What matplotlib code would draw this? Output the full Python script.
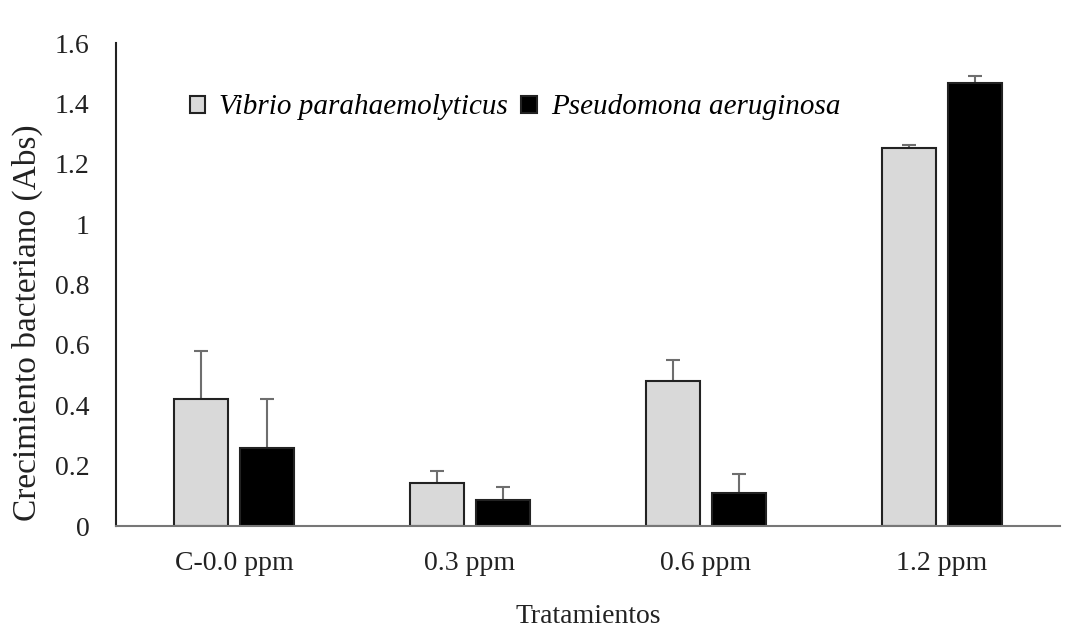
import matplotlib.pyplot as plt
import numpy as np

plt.rcParams['font.family'] = ['Liberation Serif', 'DejaVu Serif']

tratamientos = ['C-0.0 ppm', '0.3 ppm', '0.6 ppm', '1.2 ppm']
vibrio = [0.421, 0.143, 0.481, 1.251]
vibrio_err = [0.158, 0.039, 0.068, 0.013]
pseudo = [0.259, 0.085, 0.108, 1.469]
pseudo_err = [0.162, 0.044, 0.065, 0.021]

fig = plt.figure(figsize=(10.75, 6.32), dpi=100)
ax = fig.add_axes([0.108, 0.1677, 0.878, 0.764])

x = np.arange(len(tratamientos))
w = 0.23
ax.bar(x - 0.14, vibrio, w, color='#d9d9d9', edgecolor='#222222', linewidth=1.5,
       label='Vibrio parahaemolyticus', zorder=2)
ax.bar(x + 0.14, pseudo, w, color='black', edgecolor='#222222', linewidth=1.5,
       label='Pseudomona aeruginosa', zorder=2)

# only upper error bars, no lower cap
for xs, ys, es in [(x - 0.14, vibrio, vibrio_err), (x + 0.14, pseudo, pseudo_err)]:
    _, caps, _ = ax.errorbar(xs, ys, yerr=[np.zeros(4), es], fmt='none', ecolor='#6e6e6e',
                             elinewidth=1.5, capsize=5, capthick=1.5, zorder=1)
    caps[0].set_visible(False)

ax.set_xlim(-0.5, 3.5)
ax.set_ylim(0, 1.6)
ax.set_yticks(np.arange(0, 1.61, 0.2))
ax.set_yticklabels(['0', '0.2', '0.4', '0.6', '0.8', '1', '1.2', '1.4', '1.6'])
ax.set_xticks(x)
ax.set_xticklabels(tratamientos)
ax.tick_params(axis='both', length=0, labelsize=20, colors='#222222')
ax.tick_params(axis='x', pad=18)
ax.tick_params(axis='y', pad=19)

for s in ['top', 'right']:
    ax.spines[s].set_visible(False)
ax.spines['left'].set_color('#222222')
ax.spines['left'].set_linewidth(1.5)
ax.spines['bottom'].set_color('#777777')
ax.spines['bottom'].set_linewidth(1.5)

ax.set_xlabel('Tratamientos', fontsize=20, labelpad=20, color='#222222')
ax.set_ylabel('Crecimiento bacteriano (Abs)', fontsize=24, color='#222222')
ax.yaxis.set_label_coords(-0.077, 0.422)

ax.legend(loc='center left', bbox_to_anchor=(0.078, 0.867), ncol=2, frameon=False,
          prop={'style': 'italic', 'size': 21}, handlelength=0.52, handleheight=0.52,
          handletextpad=0.5, columnspacing=0.45, borderpad=0, borderaxespad=0)

fig.savefig('out.png', dpi=100)
